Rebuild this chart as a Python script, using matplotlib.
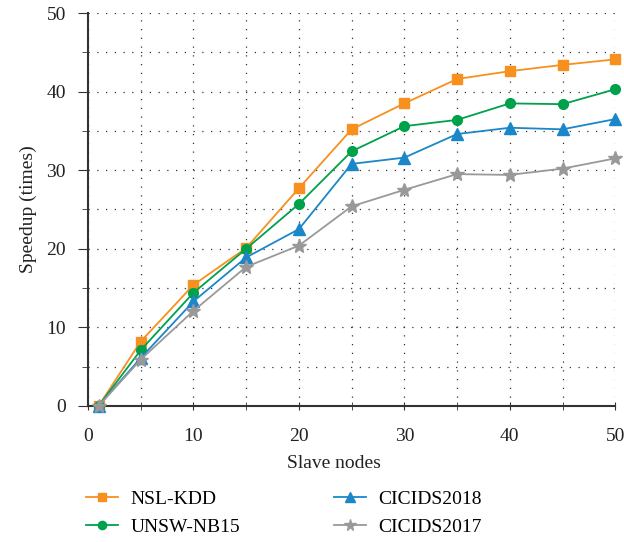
import numpy as np
import matplotlib
matplotlib.use('Agg')
import matplotlib.pyplot as plt
from matplotlib.ticker import MultipleLocator

plt.rcParams['font.family'] = ['Liberation Serif', 'DejaVu Serif']

nodes      = [1, 5, 10, 15, 20, 25, 30, 35, 40, 45, 50]
nsl_kdd    = [0, 8.2, 15.4, 20.1, 27.7, 35.2, 38.5, 41.6, 42.6, 43.4, 44.1]
unsw_nb15  = [0, 7.1, 14.4, 20.0, 25.7, 32.4, 35.6, 36.4, 38.5, 38.4, 40.3]
cicids2018 = [0, 6.1, 13.3, 18.9, 22.5, 30.8, 31.6, 34.6, 35.4, 35.2, 36.5]
cicids2017 = [0, 5.9, 12.1, 17.7, 20.4, 25.4, 27.5, 29.5, 29.4, 30.2, 31.5]

series = [
    ('NSL-KDD',    nsl_kdd,    '#F7901E', 's', 6.5),
    ('UNSW-NB15',  unsw_nb15,  '#00A14B', 'o', 7),
    ('CICIDS2018', cicids2018, '#1B87C9', '^', 8),
    ('CICIDS2017', cicids2017, '#999999', '*', 10),
]

fig = plt.figure(figsize=(6.24, 5.42), dpi=100)
ax = fig.add_axes([0.141, 0.251, 0.845, 0.725])

for name, vals, col, mk, ms in series:
    ax.plot(nodes, vals, color=col, marker=mk, markersize=ms, linewidth=1.3,
            label=name, clip_on=False, zorder=3)

ax.set_xlim(0, 50)
ax.set_ylim(0, 50)
ax.xaxis.set_major_locator(MultipleLocator(10))
ax.xaxis.set_minor_locator(MultipleLocator(5))
ax.yaxis.set_major_locator(MultipleLocator(10))
ax.yaxis.set_minor_locator(MultipleLocator(5))
ax.grid(True, which='both', linestyle=(0, (1, 6)), color='#333333', linewidth=0.9)

for s in ['top', 'right']:
    ax.spines[s].set_visible(False)
for s in ['left', 'bottom']:
    ax.spines[s].set_color('#333333')
    ax.spines[s].set_linewidth(1.5)

ax.tick_params(axis='both', which='both', colors='#333333', labelsize=14)
ax.tick_params(axis='x', which='both', direction='inout', length=6, pad=13)
ax.tick_params(axis='y', which='major', length=7, pad=9)
ax.tick_params(axis='y', which='minor', length=4)
for lab in ax.get_xticklabels() + ax.get_yticklabels():
    lab.set_color('#222222')

ax.set_xlabel('Slave nodes', fontsize=14, color='#222222')
ax.xaxis.set_label_coords(0.467, -0.125)
ax.set_ylabel('Speedup (times)', fontsize=14, color='#222222')
ax.yaxis.set_label_coords(-0.096, 0.5)

fig.legend(*ax.get_legend_handles_labels(), loc='upper left',
           bbox_to_anchor=(86 / 624, 1 - 490 / 542), ncol=2, frameon=False,
           borderpad=0, borderaxespad=0, fontsize=14, columnspacing=4.8,
           handlelength=1.65, handletextpad=0.65, labelspacing=0.55,
           markerscale=0.85)

plt.savefig('out.png', dpi=100)
